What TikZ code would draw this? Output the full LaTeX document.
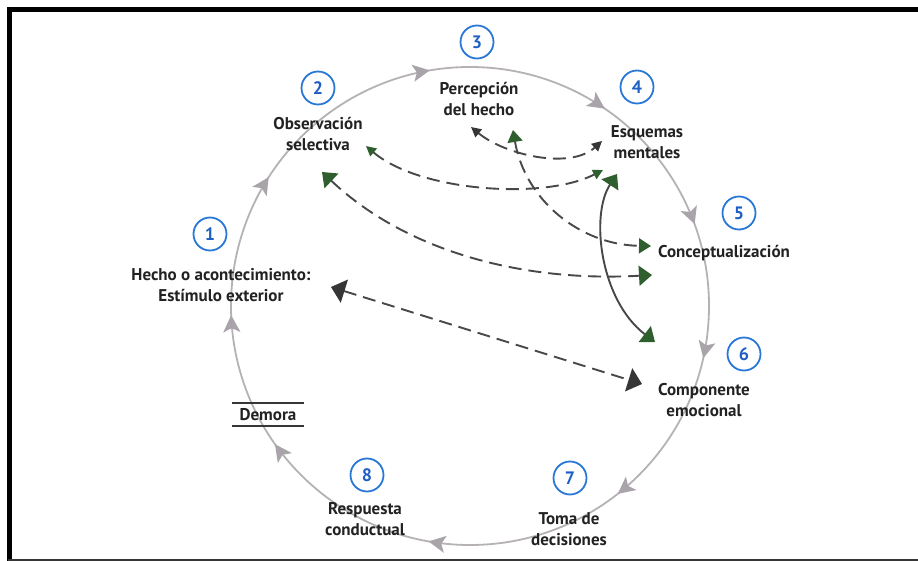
\documentclass[tikz,border=0pt]{standalone}
\usepackage{fontspec}
\setmainfont{PT Sans}
\usetikzlibrary{arrows.meta,decorations.markings}
\definecolor{cyc}{HTML}{B5B1B5}
\definecolor{cyctip}{HTML}{A9A4AA}
\definecolor{numblue}{HTML}{2A78D6}
\definecolor{numtxt}{HTML}{1F5FC4}
\definecolor{dgreen}{HTML}{2F5E2F}
\definecolor{dgray}{HTML}{363636}
\definecolor{lnk}{HTML}{484848}
\definecolor{txt}{HTML}{222222}
\tikzset{
  GB/.tip={Triangle[length=13pt,width=20pt,color=dgreen]},
  GM/.tip={Triangle[length=12pt,width=15pt,color=dgreen]},
  GS/.tip={Triangle[length=10pt,width=10pt,color=dgreen]},
  DB/.tip={Triangle[length=14pt,width=24pt,color=dgray]},
  DS/.tip={Triangle[length=10pt,width=10pt,color=dgray]},
  CT/.tip={Stealth[length=17pt,width=17pt,inset=4pt,color=cyctip]},
}
\begin{document}
\begin{tikzpicture}[x=1pt,y=1pt,
  lbl/.style={font=\fontsize{17}{21.5}\selectfont\bfseries, text=txt, align=center, inner sep=0pt},
  num/.style={circle, draw=numblue, line width=1.8pt, minimum size=33pt, inner sep=0pt, text=numtxt, font=\fontsize{18}{18}\selectfont\bfseries},
  link/.style={draw=lnk, line width=1.9pt, dash pattern=on 13pt off 7pt},
  slink/.style={draw=lnk, line width=1.9pt},
  cycle/.style={draw=cyc, line width=1.8pt},
]
\useasboundingbox (0,0) rectangle (918,-561);
% frame
\draw[line width=5pt] (8,-9.5) -- (918,-9.5);
\draw[line width=5pt] (9.5,-7) -- (9.5,-561);
\draw[line width=2pt, color=dgray] (8,-560) -- (918,-560);

% cycle
\draw[cycle, postaction={decorate}, decoration={markings,
  mark=at position 0.0350 with {\arrow{CT}},
  mark=at position 0.1439 with {\arrow{CT}},
  mark=at position 0.2778 with {\arrow{CT}},
  mark=at position 0.4019 with {\arrow{CT}},
  mark=at position 0.4939 with {\arrow{CT}},
  mark=at position 0.5906 with {\arrow{CT}},
  mark=at position 0.7231 with {\arrow{CT}},
  mark=at position 0.8453 with {\arrow{CT}},
  mark=at position 0.9444 with {\arrow{CT}}}]
  (709,-306) arc[start angle=360, end angle=0, radius=239];

% numbers
\node[num] (n1) at (210,-234) {1};
\node[num] (n2) at (318,-88) {2};
\node[num] (n3) at (477,-42) {3};
\node[num] (n4) at (637,-87) {4};
\node[num] (n5) at (739,-213) {5};
\node[num] (n6) at (744,-354) {6};
\node[num] (n7) at (570,-478) {7};
\node[num] (n8) at (367,-475) {8};

% labels
\node[lbl] (hecho) at (221,-285) {Hecho o acontecimiento:\\Estímulo exterior};
\node[lbl] (obs) at (318,-134) {Observación\\selectiva};
\node[lbl] (perc) at (479,-99) {Percepción\\del hecho};
\node[lbl] (esq) at (647,-142) {Esquemas\\mentales};
\node[lbl] (conc) at (724,-253) {Conceptualización};
\node[lbl] (comp) at (704,-400) {Componente\\emocional};
\node[lbl] (toma) at (569,-529) {Toma de\\decisiones};
\node[lbl] (resp) at (365,-519) {Respuesta\\conductual};
\node[lbl, minimum width=71pt, minimum height=23pt] (demora) at (268,-414.5) {Demora};
\draw[line width=1.5pt, color=dgray] (demora.north west) -- (demora.north east);
\draw[line width=1.5pt, color=dgray] (demora.south west) -- (demora.south east);

% connector end points
\coordinate (hechoR) at (331,-287);
\coordinate (compL) at (642,-384);
\coordinate (obsB) at (322,-172);
\coordinate (concB) at (652,-275);
\coordinate (obsR) at (366,-146);
\coordinate (esqB) at (603,-170);
\coordinate (percB) at (471,-127);
\coordinate (esqL) at (602,-141);
\coordinate (percC) at (513,-130);
\coordinate (concA) at (651,-246);
\coordinate (esqS) at (617,-174);
\coordinate (compT) at (655,-342);

% connectors
\draw[link, {DB}-{DB}] (hechoR) -- (compL);
\draw[link, {GB}-{GB}] (obsB) .. controls (410,-255) and (530,-282) .. (concB);
\draw[link, {GS}-{GS}] (obsR) .. controls (420,-192) and (545,-200) .. (esqB);
\draw[link, {DS}-{DS}] (percB) .. controls (505,-155) and (570,-170) .. (esqL);
\draw[link, {GM}-{GM}] (percC) .. controls (525,-200) and (580,-245) .. (concA);
\draw[slink, {GB}-{GB}] (esqS) .. controls (590,-215) and (600,-300) .. (compT);
\end{tikzpicture}
\end{document}
